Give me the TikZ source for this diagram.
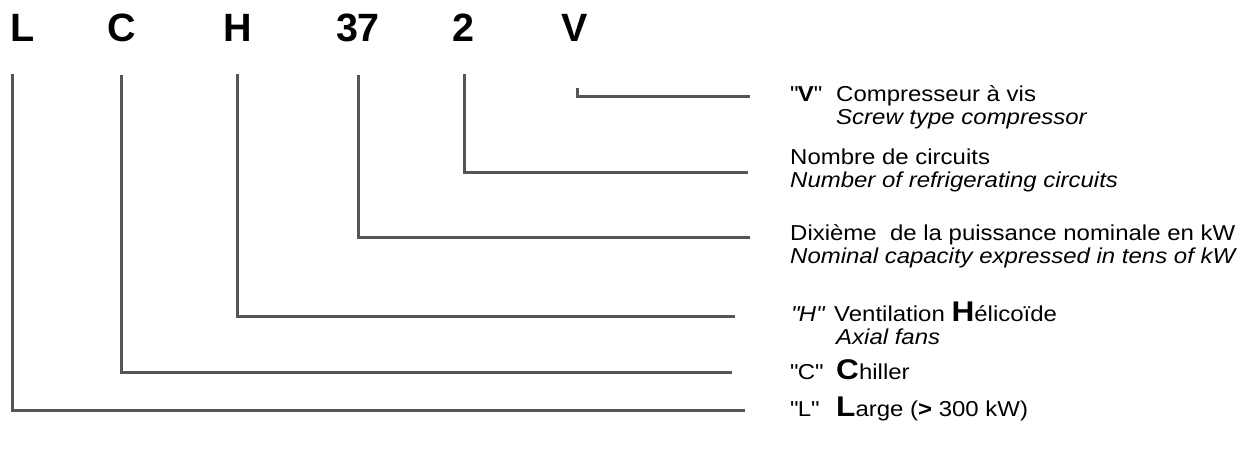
\documentclass[tikz,border=0pt]{standalone}
\usepackage{fontspec}
\setmainfont{Liberation Sans}
\newfontfamily\descfont[FakeStretch=1.11]{Liberation Sans}
\definecolor{linegray}{RGB}{85,85,85}
\begin{document}
\begin{tikzpicture}[x=1pt,y=-1pt,
  code/.style={font=\fontsize{39.5}{44}\selectfont\bfseries, inner sep=0pt, anchor=base},
  desc/.style={font=\descfont\fontsize{21.6}{24}\selectfont, inner sep=0pt, anchor=base west},
  descit/.style={desc, font=\descfont\fontsize{21.6}{24}\selectfont\itshape},
  lead/.style={draw=linegray, line width=3pt}]
\newcommand{\bigbf}[1]{{\fontsize{28.5}{28.5}\selectfont\bfseries #1}}
\newcommand{\qq}{\textquotedbl}
\useasboundingbox (0,0) rectangle (1243,448);
% code letters
\node[code, anchor=base west] (L) at (10,41) {L};
\node[code] (C) at (121.5,41) {C};
\node[code] (H) at (237.5,41) {H};
\node[code] (N37) at (358,41) {37};
\node[code] (N2) at (463,41) {2};
\node[code] (V) at (575,41) {V};
% line end points
\coordinate (eV) at (750,96);
\coordinate (e2) at (748,172);
\coordinate (e37) at (750,237);
\coordinate (eH) at (735,316);
\coordinate (eC) at (732,372);
\coordinate (eL) at (745,410);
% descriptions
\node[desc] (qV) at (790,101) {\qq\textbf{V}\qq};
\node[desc] (tV1) at (836,101) {Compresseur à vis};
\node[descit] (tV2) at (836,124) {Screw type compressor};
\node[desc] (t21) at (790,164) {Nombre de circuits};
\node[descit] (t22) at (790,187) {Number of refrigerating circuits};
\node[desc] (t31) at (790,240) {Dixième\ \ de la puissance nominale en kW};
\node[descit] (t32) at (790,263) {Nominal capacity expressed in tens of kW};
\node[descit] (qH) at (791,321) {\qq H\qq};
\node[desc] (tH1) at (834,321) {Ventilation \bigbf{H}élicoïde};
\node[descit] (tH2) at (836,344) {Axial fans};
\node[desc] (qC) at (790,379) {\qq C\qq};
\node[desc] (tC) at (836,379) {\bigbf{C}hiller};
\node[desc] (qL) at (790,416) {\qq L\qq};
\node[desc] (tL) at (836,416) {\bigbf{L}arge (\textbf{>} 300 kW)};
% leader lines
\draw[lead] (V.south) ++(2,47) |- (eV);
\draw[lead] (N2.south) ++(1,33) |- (e2);
\draw[lead] (N37.south) ++(0,33) |- (e37);
\draw[lead] (H.south) ++(0,33) |- (eH);
\draw[lead] (C.south) ++(0,33) |- (eC);
\draw[lead] (L.south west) ++(2,33) |- (eL);
\end{tikzpicture}
\end{document}
